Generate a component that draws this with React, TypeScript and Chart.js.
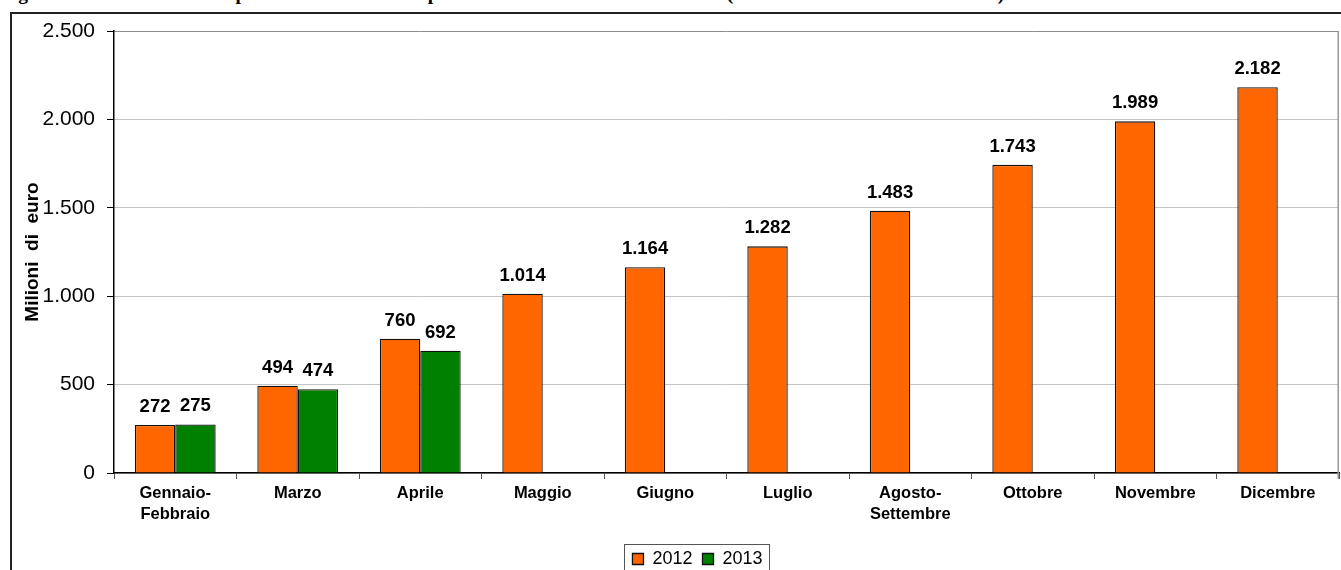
import React, { useEffect, useRef } from "react";
import { Chart, registerables } from "chart.js";

Chart.register(...registerables);

const FONT = "'Liberation Sans', Arial, sans-serif";

const categories: (string | string[])[] = [
  ["Gennaio-", "Febbraio"],
  "Marzo",
  "Aprile",
  "Maggio",
  "Giugno",
  "Luglio",
  ["Agosto-", "Settembre"],
  "Ottobre",
  "Novembre",
  "Dicembre",
];
const seriesLabels = ["2012", "2013"];
const values2012 = [272, 494, 760, 1014, 1164, 1282, 1483, 1743, 1989, 2182];
const values2013: (number | null)[] = [275, 474, 692, null, null, null, null, null, null, null];
const yTickValues = [0, 500, 1000, 1500, 2000, 2500];
const yAxisTitle = "Milioni  di  euro";
const titleText =
  "Figura 3. Andamento della spesa cumulata mensile per farmaci in distribuzione diretta (confronto 2012 - 2013 in milioni)";

const fmt = (v: number) => String(v).replace(/\B(?=(\d{3})+(?!\d))/g, ".");

const dataLabelPlugin = {
  id: "dataLabels",
  afterDatasetsDraw(chart: any) {
    const ctx = chart.ctx;
    ctx.save();
    ctx.font = `bold 18.5px ${FONT}`;
    ctx.fillStyle = "#000";
    ctx.textAlign = "center";
    ctx.textBaseline = "alphabetic";
    chart.data.datasets.forEach((ds: any, di: number) => {
      const meta = chart.getDatasetMeta(di);
      meta.data.forEach((el: any, i: number) => {
        const v = ds.data[i];
        if (v == null) return;
        ctx.fillText(fmt(v), el.x, el.y - 13);
      });
    });
    ctx.restore();
  },
};

const framePlugin = {
  id: "frameBits",
  afterLayout(chart: any) {
    const lg = chart.legend;
    if (lg) {
      const right = lg.right;
      lg.left = 56;
      lg.width = right - lg.left;
    }
  },
  afterDraw(chart: any) {
    const { ctx, chartArea } = chart;
    ctx.save();
    ctx.strokeStyle = "#999";
    ctx.lineWidth = 1.5;
    ctx.beginPath();
    ctx.moveTo(chartArea.right - 0.75, chartArea.top);
    ctx.lineTo(chartArea.right - 0.75, chartArea.bottom + 6);
    ctx.stroke();
    const lg = chart.legend;
    if (lg && lg.legendHitBoxes && lg.legendHitBoxes.length) {
      const hb = lg.legendHitBoxes;
      const first = hb[0];
      const last = hb[hb.length - 1];
      const x0 = first.left - 8;
      const x1 = last.left + last.width + 7;
      const cy = first.top + first.height / 2;
      const y0 = cy - 15;
      ctx.strokeStyle = "#555";
      ctx.lineWidth = 1;
      ctx.strokeRect(Math.round(x0) + 0.5, Math.round(y0) + 0.5, Math.round(x1 - x0), 60);
    }
    ctx.restore();
  },
};

export default function App() {
  const ref = useRef<HTMLCanvasElement | null>(null);

  useEffect(() => {
    if (!ref.current) return;
    const chart = new Chart(ref.current, {
      type: "bar",
      data: {
        labels: categories as any,
        datasets: [
          {
            label: seriesLabels[0],
            data: values2012,
            backgroundColor: "#FF6600",
            borderColor: "#111",
            borderWidth: 1.3,
            categoryPercentage: 0.66,
            barPercentage: 1,
          },
          {
            label: seriesLabels[1],
            data: values2013 as any,
            backgroundColor: "#008000",
            borderColor: "#111",
            borderWidth: 1.3,
            categoryPercentage: 0.66,
            barPercentage: 1,
          },
        ],
      },
      options: {
        responsive: false,
        animation: false,
        layout: { padding: { left: 0, right: 2, top: 31, bottom: 0 } },
        plugins: {
          tooltip: { enabled: false },
          title: { display: false },
          legend: {
            display: true,
            position: "bottom",
            labels: {
              boxWidth: 11,
              boxHeight: 11,
              padding: 10,
              color: "#000",
              font: { size: 18, family: FONT },
            },
          },
        },
        scales: {
          x: {
            grid: {
              display: true,
              drawOnChartArea: false,
              drawTicks: true,
              tickLength: 6,
              tickColor: "#555",
              offset: true,
            },
            border: { color: "#000", width: 1.5 },
            ticks: {
              color: "#000",
              font: { size: 16.5, weight: "bold", family: FONT, lineHeight: 1.28 },
              padding: 4,
              maxRotation: 0,
              autoSkip: false,
            },
            afterFit: (s: any) => {
              s.height = 67;
            },
          },
          y: {
            min: yTickValues[0],
            max: yTickValues[yTickValues.length - 1],
            afterBuildTicks: (s: any) => {
              s.ticks = yTickValues.map((v) => ({ value: v }));
            },
            ticks: {
              color: "#000",
              font: { size: 21, family: FONT },
              padding: 12,
              callback: (v: any) => fmt(Number(v)),
            },
            grid: {
              color: (c: any) => (c.tick && c.tick.value === 2500 ? "#8c8c8c" : "#c4c4c4"),
              lineWidth: 1,
              tickLength: 7,
              tickColor: "#000",
            },
            border: { color: "#000", width: 1.5 },
            title: {
              display: true,
              text: yAxisTitle,
              color: "#000",
              font: { size: 19, weight: "bold", family: FONT },
              padding: { top: 21, bottom: 0 },
            },
            afterFit: (s: any) => {
              s.width = 114;
            },
          },
        },
      },
      plugins: [dataLabelPlugin, framePlugin],
    });
    return () => chart.destroy();
  }, []);

  return (
    <div
      style={{
        position: "fixed",
        left: 0,
        top: 0,
        width: 1341,
        height: 570,
        overflow: "hidden",
        background: "#fff",
      }}
    >
      <div
        style={{
          position: "absolute",
          left: 1,
          top: -16,
          whiteSpace: "nowrap",
          fontFamily: "'Liberation Serif', 'Times New Roman', serif",
          fontWeight: "bold",
          fontSize: 19.5,
          lineHeight: "19.5px",
          color: "#000",
        }}
      >
        {titleText}
      </div>
      <div
        style={{
          position: "absolute",
          left: 10,
          top: 12,
          width: 1400,
          height: 700,
          borderTop: "2px solid #222",
          borderLeft: "2px solid #222",
          boxSizing: "border-box",
        }}
      />
      <canvas
        ref={ref}
        width={1341}
        height={578}
        style={{ position: "absolute", left: 0, top: 0, display: "block" }}
      />
    </div>
  );
}
